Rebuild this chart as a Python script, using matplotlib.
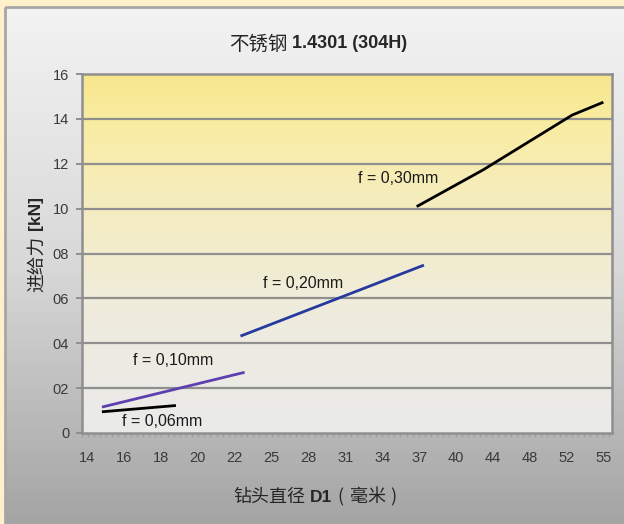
import numpy as np
import matplotlib
matplotlib.use('Agg')
import matplotlib.pyplot as plt
from matplotlib import font_manager
from matplotlib.colors import LinearSegmentedColormap
from matplotlib.patches import Rectangle

# categorias del eje x (diametro) y etiquetas del eje y
x_labels = ['14', '16', '18', '20', '22', '25', '28', '31', '34', '37', '40', '44', '48', '52', '55']
y_ticks = [0, 2, 4, 6, 8, 10, 12, 14, 16]
y_labels = ['0', '02', '04', '06', '08', '10', '12', '14', '16']

# series: x en posicion de categoria (0 = '14'), y en unidades del eje
f006_x = [0.44, 2.37]
f006_y = [0.95, 1.22]
f010_x = [0.44, 4.23]
f010_y = [1.17, 2.69]
f020_x = [4.19, 9.09]
f020_y = [4.34, 7.46]
f030_x = [8.96, 10.72, 13.14, 13.95]
f030_y = [10.12, 11.72, 14.17, 14.72]

series_names = ['f = 0,06mm', 'f = 0,10mm', 'f = 0,20mm', 'f = 0,30mm']
label_x = [0.94, 1.24, 4.76, 7.34]
label_y = [0.52, 3.22, 6.67, 11.34]


def has_font(name):
    try:
        font_manager.findfont(font_manager.FontProperties(family=name), fallback_to_default=False)
        return True
    except ValueError:
        return False


narrow_ok = has_font('Liberation Sans Narrow')

W, H = 624, 524
fig = plt.figure(figsize=(W / 100, H / 100), dpi=100)
fig.patch.set_facecolor('#FDF0CB')

# fondo del panel (degradado gris)
bg = fig.add_axes([0, 0, 1, 1], zorder=-10)
bg.axis('off')
panel_cmap = LinearSegmentedColormap.from_list('panel', ['#F3F3F3', '#D8D8D8', '#A3A3A3'])
bg.imshow(np.linspace(0, 1, 256).reshape(-1, 1), extent=(5, W + 5, H + 5, 7),
          cmap=panel_cmap, aspect='auto', origin='upper', zorder=0)
bg.add_patch(Rectangle((5, 7), W, H, fill=False, edgecolor='#A6A6A6', lw=2, zorder=1))
bg.set_xlim(0, W)
bg.set_ylim(H, 0)

left, right, top, bottom = 81.7, 611.7, 74, 433
ax = fig.add_axes([left / W, 1 - bottom / H, (right - left) / W, (bottom - top) / H])
xmin, xmax = -0.145, 14.21
ymin, ymax = 0, 16

plot_cmap = LinearSegmentedColormap.from_list(
    'plot', [(0, '#EAEAEA'), (0.35, '#EFECDD'), (0.65, '#F5EDBE'), (0.88, '#F9ECA0'), (1, '#F8E68E')])
ax.imshow(np.linspace(0, 1, 256).reshape(-1, 1), extent=(0, 1, 0, 1), transform=ax.transAxes,
          cmap=plot_cmap, aspect='auto', origin='lower', zorder=0)

for y in y_ticks[1:-1]:
    ax.axhline(y, color='#8F8F8F', lw=1.6, zorder=1)

ax.plot(f006_x, f006_y, color='black', lw=2.0, zorder=3)
ax.plot(f010_x, f010_y, color='#5E3FB0', lw=2.0, zorder=3)
ax.plot(f020_x, f020_y, color='#263A9E', lw=2.0, zorder=3)
ax.plot(f030_x, f030_y, color='black', lw=2.0, zorder=3)

for name, lx, ly in zip(series_names, label_x, label_y):
    ax.text(lx, ly, name, ha='left', va='center', fontsize=11.5,
            family=['Liberation Sans', 'DejaVu Sans'], color='#1A1A1A', zorder=4)

ax.set_xlim(xmin, xmax)
ax.set_ylim(ymin, ymax)
ax.set_xticks(np.arange(len(x_labels)))
ax.set_xticklabels(x_labels)
ax.set_xticks(np.arange(xmin, xmax, 0.166), minor=True)
ax.set_yticks(y_ticks)
ax.set_yticklabels(y_labels)

for lab in ax.get_xticklabels() + ax.get_yticklabels():
    lab.set_family(['Liberation Sans', 'DejaVu Sans'])
    lab.set_fontsize(10.5)
    lab.set_color('#3A3A3A')

ax.tick_params(axis='x', which='major', length=0, pad=13)
ax.tick_params(axis='x', which='minor', length=3, width=1, color='#A0A0A0', direction='out')
ax.tick_params(axis='y', which='major', length=4, width=1.4, color='#8F8F8F', direction='out', pad=5)
for s in ax.spines.values():
    s.set_color('#8F8F8F')
    s.set_linewidth(1.8)
    s.set_zorder(5)

# textos con partes en negrita
fig.canvas.draw()
renderer = fig.canvas.get_renderer()
cjk = ['Noto Sans CJK SC', 'DejaVu Sans']
if narrow_ok:
    lat = ['Liberation Sans Narrow', 'Liberation Sans', 'DejaVu Sans']
    lat_size = 15
else:
    lat = ['Liberation Sans', 'DejaVu Sans']
    lat_size = 13


def mixed_text(cx, cy, parts, rotation=0):
    objs = []
    gaps = []
    for s, fam, wt, size, gap in parts:
        t = fig.text(0, 0, s, family=fam, weight=wt, fontsize=size, rotation=rotation,
                     ha='left', va='center', color='#262626', rotation_mode='anchor')
        objs.append(t)
        gaps.append(gap)
    fig.canvas.draw()
    sizes = []
    for t in objs:
        bb = t.get_window_extent(renderer)
        sizes.append(bb.height if rotation else bb.width)
    total = sum(sizes) + sum(gaps[:-1])
    pos = -total / 2
    for t, sz, gap in zip(objs, sizes, gaps):
        if rotation:
            t.set_position((cx / W, 1 - (cy - pos) / H))
        else:
            t.set_position(((cx + pos) / W, 1 - cy / H))
        pos += sz + gap


mixed_text(318, 44, [('不锈钢', cjk, 'medium', 14, 5), ('1.4301 (304H)', lat, 'bold', lat_size, 0)])
mixed_text(315, 497, [('钻头直径', cjk, 'medium', 13, 5), ('D1', lat, 'bold', lat_size - 0.5, 5),
                      ('(', cjk, 'light', 13, 6), ('毫米', cjk, 'medium', 13, 5),
                      (')', cjk, 'light', 13, 0)])
mixed_text(36, 244, [('进给力', cjk, 'medium', 13.5, 5), ('[kN]', lat, 'bold', lat_size - 0.5, 0)], rotation=90)

fig.savefig('out.png', dpi=100, facecolor=fig.get_facecolor())
